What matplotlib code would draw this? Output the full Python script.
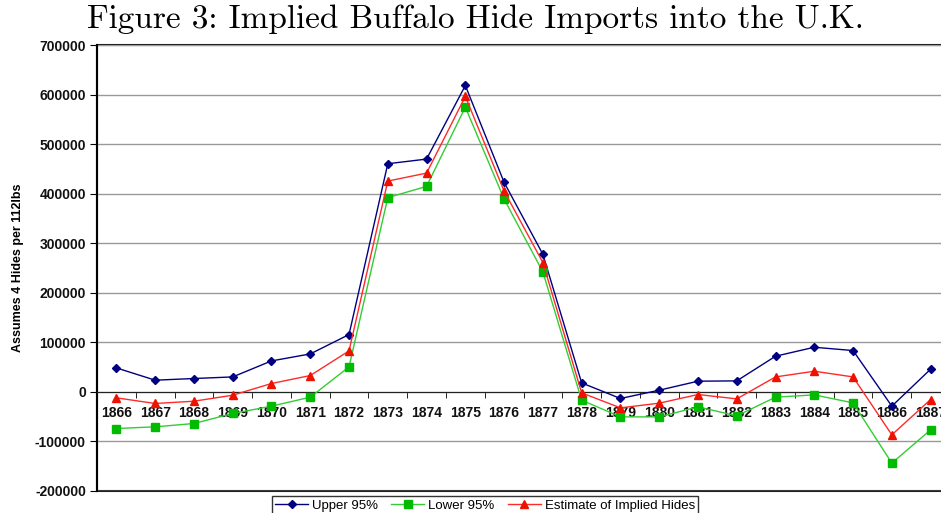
import numpy as np
import matplotlib
matplotlib.use("Agg")
import matplotlib.pyplot as plt
from matplotlib.ticker import MultipleLocator, FuncFormatter

plt.rcParams['font.family'] = ['Liberation Sans', 'DejaVu Sans']
plt.rcParams['axes.unicode_minus'] = False

years = [str(y) for y in range(1866, 1888)]
upper = [48400, 23600, 27000, 30200, 62500, 76600, 115700, 460400, 469800, 618300, 422800,
         277600, 18100, -13300, 3400, 21600, 22200, 72000, 90100, 83400, -28800, 45800]
lower = [-73900, -70500, -63800, -43600, -28800, -10700, 50400, 392000, 414700, 574600, 389100,
         242000, -16700, -50400, -50400, -30200, -48400, -10700, -6000, -22200, -143800, -76600]
estimate = [-12000, -23400, -18800, -6700, 16900, 33000, 82700, 425400, 441500, 596200, 405200,
            260900, -2000, -32200, -22800, -5300, -14100, 30200, 41700, 30200, -86700, -15400]

fig = plt.figure(figsize=(9.41, 5.13), dpi=100)
W, H = 941, 513
ax = fig.add_axes([97 / W, (H - 491) / H, (950 - 97) / W, 446 / H])

x = np.arange(len(years))
ax.plot(x, upper, color='#000080', lw=1, marker='D', ms=4.5, label='Upper 95%', zorder=3)
ax.plot(x, lower, color='#33cc33', lw=1, marker='s', ms=6, mfc='#00bb00', mec='#00bb00',
        label='Lower 95%', zorder=3)
ax.plot(x, estimate, color='#ff2a2a', lw=1, marker='^', ms=6, mfc='#ee1100', mec='#ee1100',
        label='Estimate of Implied Hides', zorder=3)

ax.set_xlim(-0.5, len(years) - 0.5)
ax.set_ylim(-200000, 700000)
ax.yaxis.set_major_locator(MultipleLocator(100000))
ax.yaxis.set_major_formatter(FuncFormatter(lambda v, p: f"{int(v)}"))
ax.grid(axis='y', color='#999999', lw=1)
ax.set_axisbelow(True)

# category axis sits on the zero line, plot area keeps a full border
ax.spines['bottom'].set_position(('data', 0))
ax.spines['bottom'].set_color('#222222')
for s in ['top', 'right']:
    ax.spines[s].set_visible(False)
ax.spines['left'].set_linewidth(1.5)
ax.patch.set_edgecolor('#222222')
ax.patch.set_linewidth(1.5)

ax.set_xticks(x)
ax.set_xticklabels(years)
ax.set_xticks(x[:-1] + 0.5, minor=True)
ax.tick_params(axis='x', which='major', length=0, pad=10, labelsize=10)
ax.tick_params(axis='x', which='minor', length=4, direction='out')
ax.tick_params(axis='y', length=5, labelsize=10, pad=3)
for lbl in ax.get_xticklabels() + ax.get_yticklabels():
    lbl.set_fontweight('bold')
    lbl.set_color('#111111')

ax.set_ylabel('Assumes 4 Hides per 112lbs', fontsize=9, fontweight='bold', labelpad=8)

fig.text(0.505, 0.962, 'Figure 3: Implied Buffalo Hide Imports into the U.K.',
         fontname='cmr10', fontsize=24, ha='center', va='center')

leg = fig.legend(loc='upper center', bbox_to_anchor=(485 / W, 1 - 496 / H), ncol=3,
                 fontsize=9.5, frameon=True, fancybox=False, edgecolor='black',
                 handlelength=2.5, columnspacing=1.0, handletextpad=0.3, borderpad=0.25,
                 borderaxespad=0)
leg.get_frame().set_linewidth(1)

fig.savefig('out.png', dpi=100)
